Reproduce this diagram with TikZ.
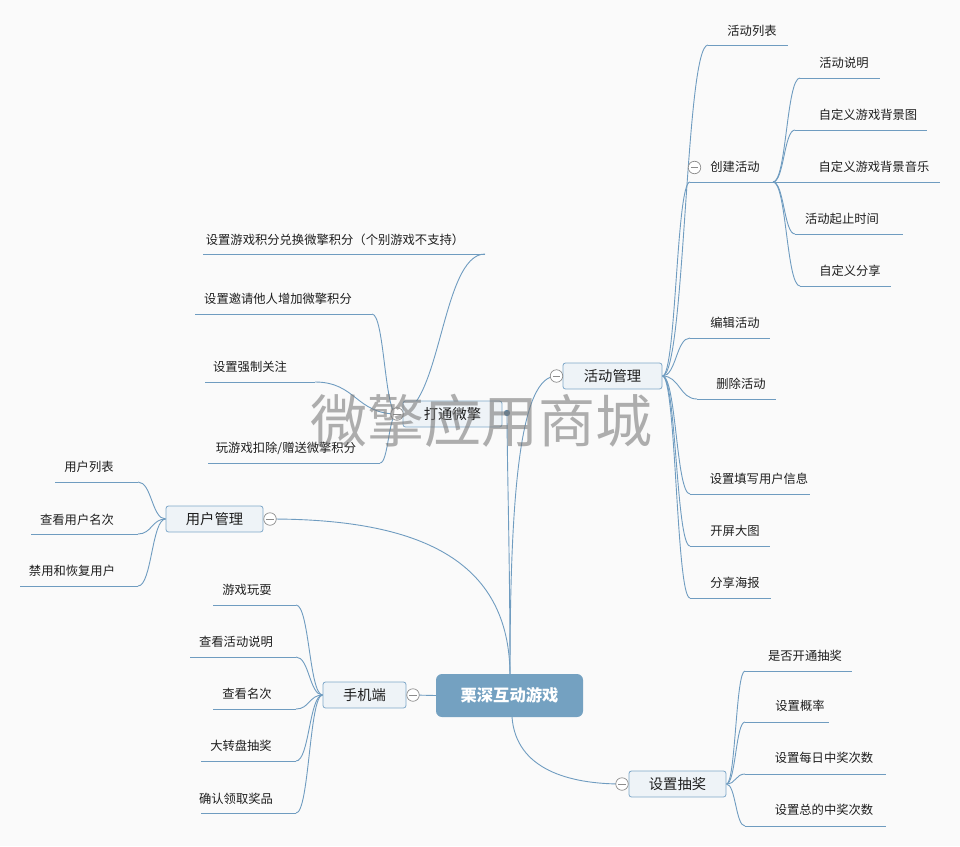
\documentclass[tikz,border=0pt]{standalone}
\usepackage{fontspec}
\setmainfont{Noto Sans CJK SC}
\usetikzlibrary{calc}
\definecolor{bgc}{HTML}{FAFAFA}
\definecolor{ln}{HTML}{6F9CC0}
\definecolor{rootfill}{HTML}{74A1C1}
\definecolor{boxfill}{HTML}{EEF3F7}
\definecolor{boxline}{HTML}{7FA8C9}
\definecolor{txt}{HTML}{1E1E1E}
\definecolor{wmc}{HTML}{7A7A7A}
\pgfdeclarelayer{bottom}
\pgfdeclarelayer{back}
\pgfsetlayers{bottom,back,main}
\newcommand\lf[7]{%
  \node[leaf] (#1) at (#2,#3) {#7};
  \coordinate (#1-a) at (#4,#6);
  \coordinate (#1-b) at (#5,#6);
  \begin{pgfonlayer}{back}\draw[conn] (#1-a) -- (#1-b);\end{pgfonlayer}}
\newcommand\colp[3]{%
  \node[colbtn] (#1) at (#2,#3) {};
  \draw[gray!90, line width=0.7pt] ($(#1.center)+(-3.6,0)$) -- ($(#1.center)+(3.6,0)$);}
\begin{document}
\begin{tikzpicture}[x=1pt,y=-1pt,
  conn/.style={draw=ln, line width=0.9pt},
  hc/.style={to path={let \p1=(\tikztostart),\p2=(\tikztotarget) in
     .. controls ({0.5*\x1+0.5*\x2},\y1) and ({0.5*\x1+0.5*\x2},\y2) .. (\tikztotarget)}},
  leaf/.style={inner sep=0pt, text=txt, font=\fontsize{12.3}{14}\selectfont},
  branch/.style={draw=boxline, fill=boxfill, rounded corners=2.5pt, line width=0.8pt,
     minimum height=26pt, inner sep=0pt, text=txt, font=\fontsize{14.3}{16}\selectfont},
  rootbox/.style={fill=rootfill, rounded corners=6pt, minimum width=147pt, minimum height=43pt,
     inner sep=0pt, text=white, font=\fontsize{16.3}{18}\selectfont\bfseries},
  colbtn/.style={circle, draw=gray!90, fill=white, minimum size=12.5pt, inner sep=0pt, line width=0.7pt}
]
\useasboundingbox (0,0) rectangle (960,846);
\begin{pgfonlayer}{bottom}
\fill[bgc] (0,0) rectangle (960,846);
\end{pgfonlayer}

% root and branches
\node[rootbox] (root) at (509.5,695.5) {栗深互动游戏};
\coordinate (rt) at (510,674);
\coordinate (rb) at (512,717);

\node[branch, minimum width=99pt] (hdgl) at (612.5,376) {活动管理};
\colp{hdglc}{556.5}{376}
\node[branch, minimum width=99pt] (dtwq) at (452.5,414) {打通微擎};
\colp{dtwqc}{397}{414}
\fill[ln!85!black] (507,413) circle (3.2pt);
\coordinate (dtwqdot) at (507,413);
\node[branch, minimum width=97pt] (yhgl) at (214.5,519) {用户管理};
\colp{yhglc}{270}{519}
\node[branch, minimum width=83pt] (sjd) at (364.5,695) {手机端};
\colp{sjdc}{413}{695}
\node[branch, minimum width=97pt] (szcj) at (677.5,784) {设置抽奖};
\colp{szcjc}{622}{784}

% leaves of 活动管理
\lf{a1}{752}{31}{708}{788}{45}{活动列表}
\lf{a2}{735}{167}{690}{773}{182}{创建活动}
\colp{a2c}{694.5}{167.5}
\lf{b1}{844}{63}{800}{880}{78}{活动说明}
\lf{b2}{868}{115}{795}{927}{130}{自定义游戏背景图}
\lf{b3}{874}{167}{773}{940}{182}{自定义游戏背景音乐}
\lf{b4}{842}{219}{795}{903}{234}{活动起止时间}
\lf{b5}{850}{271}{800}{891}{286}{自定义分享}
\lf{a3}{735}{323}{690}{770}{338}{编辑活动}
\lf{a4}{741}{384}{697}{776}{399}{删除活动}
\lf{a5}{759}{479}{690}{810}{494}{设置填写用户信息}
\lf{a6}{735}{531}{690}{770}{546}{开屏大图}
\lf{a7}{735}{583}{690}{771}{598}{分享海报}

% leaves of 设置抽奖
\lf{c1}{805}{656}{745}{852}{671}{是否开通抽奖}
\lf{c2}{800}{706}{745}{829}{722}{设置概率}
\lf{c3}{824}{758}{745}{886}{774}{设置每日中奖次数}
\lf{c4}{824}{810}{745}{886}{826}{设置总的中奖次数}

% leaves of 用户管理
\lf{d1}{89}{467}{55}{138}{482}{用户列表}
\lf{d2}{77}{520}{31}{138}{534}{查看用户名次}
\lf{d3}{72}{571}{20}{138}{586}{禁用和恢复用户}

% leaves of 手机端
\lf{e1}{247}{590}{213}{296}{605}{游戏玩耍}
\lf{e2}{236}{642}{190}{296}{657}{查看活动说明}
\lf{e3}{247}{694}{213}{296}{709}{查看名次}
\lf{e4}{241}{746}{201}{296}{761}{大转盘抽奖}
\lf{e5}{236}{799}{201}{296}{813}{确认领取奖品}

% leaves of 打通微擎
\lf{f1}{335}{240}{203}{485}{254}{设置游戏积分兑换微擎积分（个别游戏不支持）}
\lf{f2}{278}{299}{195}{372}{314}{设置邀请他人增加微擎积分}
\lf{f3}{250}{367}{205}{315}{382}{设置强制关注}
\lf{f4}{286}{448}{208}{380}{463}{玩游戏扣除/赠送微擎积分}

\begin{pgfonlayer}{back}
% root connectors
\draw[conn] (rt) .. controls (510,480) and (522,376) .. (hdglc.center);
\draw[conn] (rt) .. controls (510,560) and (507,460) .. (dtwqdot);
\draw[conn] (yhglc.center) .. controls (420,519) and (509,560) .. (rt);
\draw[conn] (sjdc.center) -- (root.west);
\draw[conn] (rb) .. controls (516,770) and (570,784) .. (szcjc.center);
% 活动管理
\foreach \t in {a1,a2,a3,a4,a5,a6,a7}{\draw[conn] (hdgl.east) to[hc] (\t-a);}
\foreach \t in {b1,b2,b3,b4,b5}{\draw[conn] (a2-b) to[hc] (\t-a);}
% 设置抽奖
\foreach \t in {c1,c2,c3,c4}{\draw[conn] (szcj.east) to[hc] (\t-a);}
% 用户管理
\foreach \t in {d1,d2,d3}{\draw[conn] (yhgl.west) to[hc] (\t-b);}
% 手机端
\foreach \t in {e1,e2,e3,e4,e5}{\draw[conn] (sjd.west) to[hc] (\t-b);}
% 打通微擎
\foreach \t in {f1,f2,f3,f4}{\draw[conn] (dtwqc.center) to[hc] (\t-b);}
\end{pgfonlayer}

% watermark
\node[text=wmc, opacity=0.6, inner sep=0pt, font=\fontsize{57}{60}\selectfont] (wm) at (481,421) {微擎应用商城};
\end{tikzpicture}
\end{document}
